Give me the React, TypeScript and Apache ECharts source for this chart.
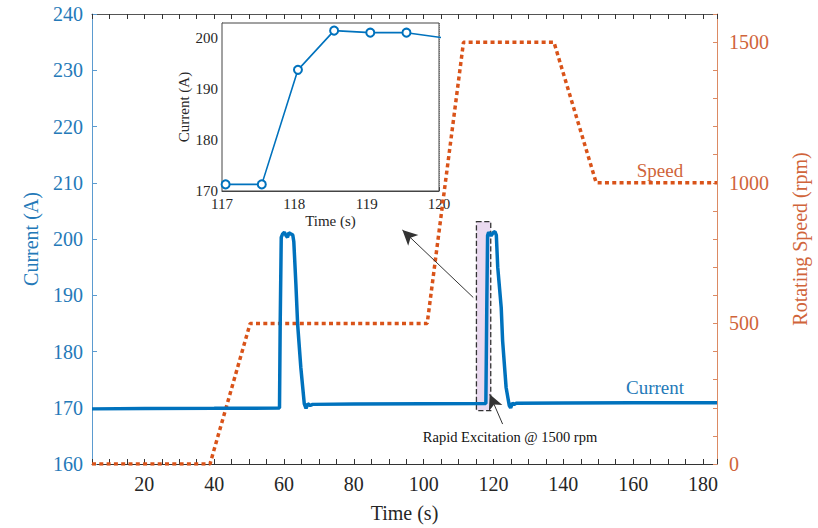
import React, { useEffect, useRef } from "react";
import * as echarts from "echarts";

// ---- data ----
const currentTime = [
  5, 20, 40, 58.7, 58.9, 59.2, 59.6, 60.1, 60.5, 61, 61.4, 62, 62.5, 62.8, 63.4, 63.9, 64.8, 65.8, 66.3, 66.8,
  67.5, 68.2, 80, 100, 117.8, 118.1, 118.3, 118.6, 119.3, 120, 120.4, 120.8, 121.2, 122.2, 122.6, 123.6, 124.5,
  124.9, 125.4, 125.9, 126.5, 140, 160, 184,
];
const currentValue = [
  169.8, 169.85, 169.9, 169.95, 185, 200.3, 200.9, 201.2, 200.7, 200.3, 201.1, 200.9, 200.7, 199.5, 191.9, 184.8,
  177.2, 170.7, 169.9, 170.7, 170.4, 170.6, 170.65, 170.7, 170.75, 190, 200.6, 201.2, 200.6, 201.2, 201.3, 200.7,
  195, 187.8, 181.9, 173.6, 170.4, 170.0, 170.8, 170.6, 170.8, 170.85, 170.9, 170.9,
];
const speedTime = [5, 38.8, 50.3, 101, 111.4, 137.3, 149.4, 184];
const speedValue = [0, 0, 500, 500, 1500, 1500, 1000, 1000];
const insetTime = [117.05, 117.55, 118.05, 118.55, 119.05, 119.55, 120.05];
const insetValue = [171.3, 171.3, 193.8, 201.5, 201.1, 201.1, 200.1];
// highlight box and arrows (data coordinates)
const boxCorners = [
  [115.1, 203.1],
  [119.2, 169.5],
];
const arrowToInset = [
  [114.2, 189.6],
  [93.9, 201.6],
];
const arrowToSpike = [
  [122.6, 167.1],
  [118.9, 172.4],
];

const SERIF = '"Liberation Serif", "Times New Roman", serif';
const BLUE = "#0072BD";
const BLUE_TXT = "#2479b8";
const ORANGE = "#D95319";
const ORANGE_TXT = "#d0643a";
const DARK = "#262626";

const zip = (a: number[], b: number[]) => a.map((v, i) => [v, b[i]]);

export default function App() {
  const ref = useRef<HTMLDivElement>(null);
  useEffect(() => {
    if (!ref.current) return;
    const chart = echarts.init(ref.current, undefined, { renderer: "svg", width: 818, height: 528 });
    const axisFont = { fontFamily: SERIF, fontSize: 20 };
    const option: any = {
      animation: false,
      backgroundColor: "#fff",
      grid: [
        { left: 92, right: 90, top: 14, bottom: 58.5 },
        {
          left: 222,
          right: 379,
          top: 23,
          bottom: 337,
          show: true,
          backgroundColor: "#fff",
          borderColor: "#444",
          borderWidth: 1,
          z: 5,
        },
      ],
      xAxis: [
        {
          type: "value",
          gridIndex: 0,
          min: 5,
          max: 184,
          interval: 5,
          axisLine: { show: true, onZero: false, lineStyle: { color: "#333", width: 1 } },
          axisTick: { show: true, inside: true, length: 5, lineStyle: { color: "#333" } },
          axisLabel: {
            formatter: (v: number) => (v % 20 === 0 ? String(v) : ""),
            ...axisFont,
            color: DARK,
            margin: 10,
          },
          splitLine: { show: false },
          name: "Time (s)",
          nameLocation: "middle",
          nameGap: 39,
          nameTextStyle: { ...axisFont, color: DARK },
        },
        {
          type: "value",
          gridIndex: 0,
          position: "top",
          min: 5,
          max: 184,
          interval: 5,
          axisLine: { show: true, onZero: false, lineStyle: { color: "#555", width: 1 } },
          axisTick: { show: true, inside: true, length: 5, lineStyle: { color: "#333" } },
          axisLabel: { show: false },
          splitLine: { show: false },
        },
        {
          type: "value",
          gridIndex: 1,
          min: 117,
          max: 120,
          interval: 1,
          axisLine: { show: true, onZero: false, lineStyle: { color: "#444" } },
          axisTick: { show: true, inside: true, length: 4, lineStyle: { color: "#444" } },
          axisLabel: { fontFamily: SERIF, fontSize: 15, color: DARK, margin: 5 },
          splitLine: { show: true, lineStyle: { color: "#999", type: "dotted", width: 1 } },
          minorTick: { show: false, splitNumber: 10 },
          minorSplitLine: { show: true, lineStyle: { color: "#c4c4c4", type: "dotted", width: 1 } },
          name: "Time (s)",
          nameLocation: "middle",
          nameGap: 22,
          nameTextStyle: { fontFamily: SERIF, fontSize: 15, color: DARK },
        },
      ],
      yAxis: [
        {
          type: "value",
          gridIndex: 0,
          position: "left",
          min: 160,
          max: 240,
          interval: 10,
          axisLine: { show: true, onZero: false, lineStyle: { color: "#5b9bd0", width: 1 } },
          axisTick: { show: true, inside: true, length: 5, lineStyle: { color: "#5b9bd0" } },
          axisLabel: { ...axisFont, color: BLUE_TXT, margin: 9 },
          splitLine: { show: false },
          name: "Current (A)",
          nameLocation: "middle",
          nameGap: 51,
          nameRotate: 90,
          nameTextStyle: { ...axisFont, color: BLUE_TXT },
        },
        {
          type: "value",
          gridIndex: 0,
          position: "right",
          min: 0,
          max: 1600,
          interval: 100,
          axisLine: { show: true, onZero: false, lineStyle: { color: "#dc8a63", width: 1 } },
          axisTick: { show: true, inside: true, length: 4, lineStyle: { color: "#dc8a63" } },
          axisLabel: {
            formatter: (v: number) => (v % 500 === 0 ? String(v) : ""),
            ...axisFont,
            color: ORANGE_TXT,
            margin: 12,
          },
          splitLine: { show: false },
          name: "Rotating Speed (rpm)",
          nameLocation: "middle",
          nameGap: 73,
          nameRotate: 90,
          nameTextStyle: { ...axisFont, color: ORANGE_TXT },
        },
        {
          type: "value",
          gridIndex: 1,
          min: 170,
          max: 203,
          interval: 10,
          axisLine: { show: true, onZero: false, lineStyle: { color: "#444" } },
          axisTick: { show: true, inside: true, length: 4, lineStyle: { color: "#444" } },
          axisLabel: {
            formatter: (v: number) => (v % 10 === 0 ? String(v) : ""),
            fontFamily: SERIF,
            fontSize: 15,
            color: DARK,
            margin: 4,
          },
          splitLine: { show: true, lineStyle: { color: "#999", type: "dotted", width: 1 } },
          minorTick: { show: false, splitNumber: 5 },
          minorSplitLine: { show: true, lineStyle: { color: "#c4c4c4", type: "dotted", width: 1 } },
          name: "Current (A)",
          nameLocation: "middle",
          nameGap: 30,
          nameRotate: 90,
          nameTextStyle: { fontFamily: SERIF, fontSize: 15, color: DARK },
        },
      ],
      series: [
        {
          type: "line",
          name: "Speed",
          xAxisIndex: 0,
          yAxisIndex: 1,
          data: zip(speedTime, speedValue),
          showSymbol: false,
          lineStyle: { color: ORANGE, width: 3.5, type: [4, 3.3], cap: "butt" },
          z: 2,
        },
        {
          type: "line",
          name: "Current",
          xAxisIndex: 0,
          yAxisIndex: 0,
          data: zip(currentTime, currentValue),
          showSymbol: false,
          lineStyle: { color: BLUE, width: 3.5 },
          z: 3,
          markArea: {
            silent: true,
            itemStyle: {
              color: "rgba(232,214,238,0.9)",
              borderColor: "#333",
              borderType: "dashed",
              borderWidth: 1.3,
            },
            data: [[{ coord: boxCorners[0] }, { coord: boxCorners[1] }]],
          },
          markLine: {
            silent: true,
            symbol: ["none", "arrow"],
            symbolSize: [11, 15],
            label: { show: false },
            lineStyle: { color: "#333", width: 1, type: "solid" },
            data: [
              [{ coord: arrowToInset[0] }, { coord: arrowToInset[1] }],
              [{ coord: arrowToSpike[0] }, { coord: arrowToSpike[1] }],
            ],
          },
        },
        {
          type: "line",
          name: "Inset",
          xAxisIndex: 2,
          yAxisIndex: 2,
          data: zip(insetTime, insetValue),
          symbol: "emptyCircle",
          symbolSize: 8,
          clip: true,
          itemStyle: { color: BLUE, borderWidth: 1.3 },
          lineStyle: { color: BLUE, width: 1.6 },
          z: 10,
        },
      ],
      graphic: [
        {
          type: "text",
          x: 660,
          y: 170,
          style: { text: "Speed", font: `19px ${SERIF}`, fill: ORANGE_TXT, align: "center", verticalAlign: "middle" },
        },
        {
          type: "text",
          x: 655,
          y: 387,
          style: { text: "Current", font: `19px ${SERIF}`, fill: BLUE_TXT, align: "center", verticalAlign: "middle" },
        },
        {
          type: "text",
          x: 510,
          y: 437,
          style: {
            text: "Rapid Excitation @ 1500 rpm",
            font: `14.5px ${SERIF}`,
            fill: "#111",
            align: "center",
            verticalAlign: "middle",
          },
        },
      ],
    };
    chart.setOption(option);
    return () => chart.dispose();
  }, []);
  return <div ref={ref} style={{ width: 818, height: 528, position: "fixed", left: 0, top: 0 }} />;
}
